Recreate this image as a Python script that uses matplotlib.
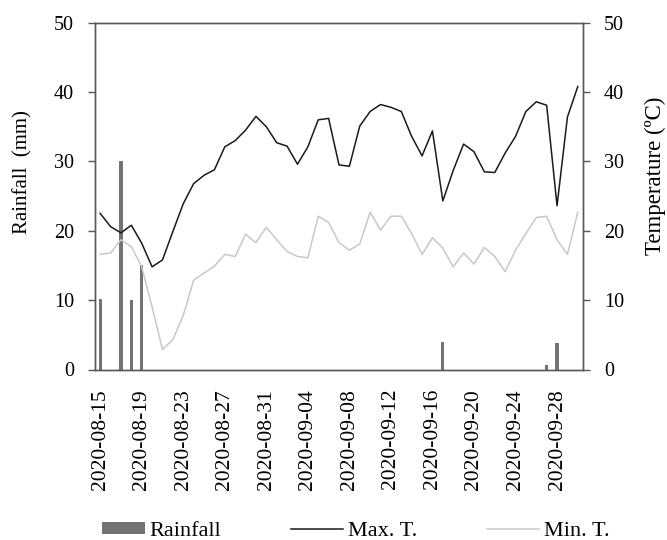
import matplotlib
matplotlib.use("Agg")
import matplotlib.pyplot as plt
import numpy as np
import pandas as pd
from matplotlib.patches import Patch, Rectangle
from matplotlib.lines import Line2D
from matplotlib.legend_handler import HandlerPatch

plt.rcParams['font.family'] = ['Liberation Serif', 'DejaVu Serif']

dates = pd.date_range("2020-08-15", "2020-09-30", freq="D").strftime("%Y-%m-%d").tolist()

rainfall = [10.1, 0, 30.0, 10.0, 15.0, 0, 0, 0, 0, 0, 0, 0, 0, 0, 0, 0, 0, 0, 0, 0,
            0, 0, 0, 0, 0, 0, 0, 0, 0, 0, 0, 0, 0, 4.0, 0, 0, 0, 0, 0, 0,
            0, 0, 0, 0.6, 3.8, 0, 0]

max_t = [22.5, 20.6, 19.7, 20.8, 18.2, 14.8, 15.8, 19.9, 23.9, 26.8,
         28.0, 28.8, 32.1, 33.0, 34.5, 36.5, 35.0, 32.7, 32.2, 29.6,
         32.1, 36.0, 36.2, 29.5, 29.3, 35.1, 37.2, 38.2, 37.8, 37.2,
         33.6, 30.8, 34.4, 24.3, 28.7, 32.5, 31.4, 28.5, 28.4, 31.2,
         33.6, 37.2, 38.6, 38.1, 23.6, 36.4, 40.8]

min_t = [16.6, 16.8, 18.7, 17.7, 14.8, 9.0, 2.9, 4.3, 7.8, 12.9,
         13.9, 14.9, 16.6, 16.3, 19.5, 18.3, 20.5, 18.7, 17.0, 16.3,
         16.1, 22.1, 21.2, 18.3, 17.2, 18.1, 22.7, 20.1, 22.1, 22.1,
         19.6, 16.6, 19.0, 17.5, 14.8, 16.8, 15.2, 17.6, 16.3, 14.1,
         17.2, 19.6, 21.9, 22.1, 18.7, 16.6, 22.7]

y_ticks = [0, 10, 20, 30, 40, 50]

FS = 14.5
FS_DATE = 15.5
FS_LEG = 16
frame_col = '#595959'
bar_col = '#737373'
max_col = '#1a1a1a'
min_col = '#c8c8c8'

fig = plt.figure(figsize=(6.67, 5.40), dpi=100)
ax = fig.add_axes([95/667, 1 - 369.5/540, (583-95)/667, (369.5-22.7)/540])
ax2 = ax.twinx()

x = np.arange(len(dates))
ax.bar(x, rainfall, width=0.32, color=bar_col, zorder=2)
ax2.plot(x, max_t, color=max_col, lw=1.1, zorder=3)
ax2.plot(x, min_t, color=min_col, lw=1.1, zorder=3)

ax.set_xlim(-0.5, len(dates) - 0.5)
for a in (ax, ax2):
    a.set_ylim(0, 50)
    a.set_yticks(y_ticks)
    for s in a.spines.values():
        s.set_color(frame_col)
        s.set_linewidth(1.0)

ax.set_xticks(x[::4])
ax.set_xticklabels(dates[::4], rotation=90, fontsize=FS_DATE, va='top', ha='center')
ax.tick_params(axis='x', length=0, pad=14)
ax.tick_params(axis='y', direction='out', length=5, width=1, color=frame_col, labelsize=FS, pad=10)
ax2.tick_params(axis='y', direction='out', length=5, width=1, color=frame_col, labelsize=FS, pad=10)

ax.set_ylabel("Rainfall  (mm)", fontsize=15)
ax2.set_ylabel("Temperature (ºC)", fontsize=16.5, rotation=90)
h = 369.5 - 22.7
ax.yaxis.set_label_coords((23 - 95) / 488, (369.5 - 172) / h)
ax2.yaxis.set_label_coords((655 - 95) / 488, (369.5 - 176) / h)
ax.yaxis.label.set_verticalalignment('center')
ax2.yaxis.label.set_verticalalignment('center')


def short_patch(legend, orig_handle, xdescent, ydescent, width, height, fontsize):
    w = 0.83 * width
    return Rectangle((-xdescent + (width - w), -ydescent), w, height)


handles = [Patch(facecolor=bar_col, edgecolor='none'),
           Line2D([], [], color=max_col, lw=1.1),
           Line2D([], [], color=min_col, lw=1.1)]
labels = ["Rainfall", "Max. T.", "Min. T."]
fig.legend(handles, labels, loc='center', bbox_to_anchor=(351/667, 1 - 531/540),
           ncol=3, frameon=False, fontsize=FS_LEG, handlelength=2.35, handleheight=0.45,
           handletextpad=0.2, columnspacing=3.15, borderaxespad=0,
           handler_map={Patch: HandlerPatch(patch_func=short_patch)})

fig.savefig("out.png", dpi=100)
